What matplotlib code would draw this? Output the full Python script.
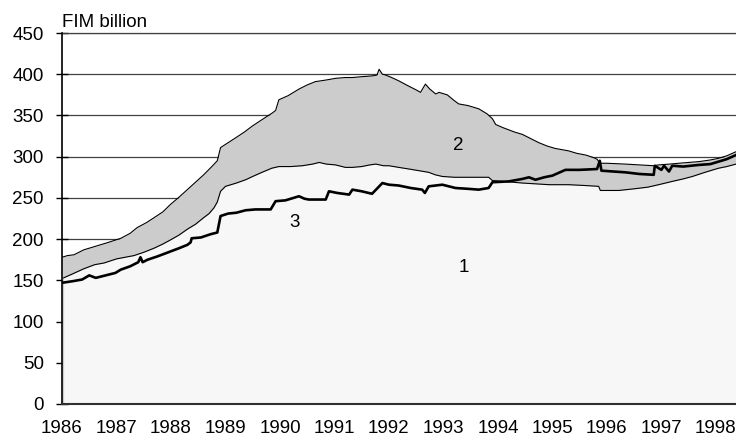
import matplotlib

matplotlib.use("Agg")
import matplotlib.pyplot as plt
import numpy as np

plt.rcParams["font.family"] = ["Liberation Sans", "DejaVu Sans"]

# series 2 top (total)
top_x = [1986.00, 1986.10, 1986.22, 1986.40, 1986.65, 1986.85, 1987.08, 1987.25, 1987.38, 1987.55,
         1987.69, 1987.85, 1987.99, 1988.15, 1988.30, 1988.45, 1988.60, 1988.75, 1988.85, 1988.91,
         1989.05, 1989.19, 1989.35, 1989.49, 1989.65, 1989.86, 1989.92, 1989.98, 1990.15, 1990.35,
         1990.50, 1990.65, 1990.85, 1991.02, 1991.20, 1991.33, 1991.50, 1991.70, 1991.78, 1991.82,
         1991.88, 1991.94, 1992.05, 1992.18, 1992.35, 1992.50, 1992.58, 1992.67, 1992.75, 1992.86,
         1992.92, 1993.07, 1993.20, 1993.28, 1993.45, 1993.65, 1993.80, 1993.90, 1993.96, 1994.10,
         1994.30, 1994.45, 1994.60, 1994.75, 1994.90, 1995.05, 1995.30, 1995.45, 1995.61, 1995.75,
         1995.82, 1995.87, 1996.00, 1996.34, 1996.60, 1996.86, 1996.95, 1997.15, 1997.32, 1997.50,
         1997.69, 1997.90, 1998.05, 1998.20, 1998.37]
top_y = [178, 180, 181, 187, 192, 196, 201, 207, 214, 220,
         226, 233, 242, 251, 260, 269, 278, 288, 295, 311,
         317, 323, 330, 337, 344, 353, 356, 369, 374, 382,
         387, 391, 393, 395, 396, 396, 397, 398, 399, 406,
         400, 399, 396, 392, 386, 381, 378, 388, 382, 376,
         378, 375, 368, 364, 362, 358, 352, 346, 339, 335,
         330, 327, 322, 317, 313, 310, 307, 304, 302, 299,
         297, 292, 292, 291, 290, 289, 290, 291, 292, 293,
         294, 296, 298, 301, 306]

# series 1
s1_x = [1986.03, 1986.20, 1986.40, 1986.60, 1986.77, 1987.00, 1987.32, 1987.50, 1987.69, 1987.85,
        1987.99, 1988.15, 1988.30, 1988.45, 1988.60, 1988.70, 1988.79, 1988.85, 1988.91, 1989.00,
        1989.20, 1989.37, 1989.50, 1989.67, 1989.85, 1989.98, 1990.20, 1990.41, 1990.60, 1990.72,
        1990.85, 1991.02, 1991.20, 1991.33, 1991.50, 1991.65, 1991.76, 1991.90, 1992.00, 1992.18,
        1992.37, 1992.55, 1992.73, 1992.85, 1992.98, 1993.20, 1993.50, 1993.83, 1993.90, 1994.10,
        1994.45, 1994.70, 1994.94, 1995.30, 1995.60, 1995.85, 1995.88, 1996.22, 1996.50, 1996.75,
        1996.95, 1997.20, 1997.40, 1997.57, 1997.80, 1998.05, 1998.20, 1998.37]
s1_y = [153, 158, 164, 169, 171, 176, 180, 184, 189, 194,
        199, 205, 212, 218, 226, 231, 238, 245, 258, 264,
        268, 272, 276, 281, 286, 288, 288, 289, 291, 293,
        291, 290, 287, 287, 288, 290, 291, 289, 289, 287,
        285, 283, 281, 278, 276, 275, 275, 275, 271, 270,
        268, 267, 266, 266, 265, 264, 259, 259, 261, 263,
        266, 270, 273, 276, 281, 286, 288, 291]

# series 3
s3_x = [1986.00, 1986.20, 1986.37, 1986.50, 1986.62, 1986.80, 1986.98, 1987.08, 1987.25, 1987.40,
        1987.44, 1987.48, 1987.57, 1987.75, 1987.99, 1988.15, 1988.30, 1988.36, 1988.38, 1988.55,
        1988.73, 1988.85, 1988.91, 1989.05, 1989.20, 1989.37, 1989.55, 1989.83, 1989.92, 1990.10,
        1990.35, 1990.45, 1990.53, 1990.84, 1990.90, 1991.05, 1991.27, 1991.33, 1991.50, 1991.69,
        1991.88, 1992.00, 1992.18, 1992.40, 1992.61, 1992.66, 1992.73, 1992.98, 1993.22, 1993.45,
        1993.65, 1993.83, 1993.90, 1994.20, 1994.45, 1994.57, 1994.69, 1994.85, 1995.00, 1995.24,
        1995.50, 1995.82, 1995.87, 1995.90, 1996.34, 1996.60, 1996.86, 1996.88, 1997.00, 1997.05,
        1997.14, 1997.20, 1997.40, 1997.69, 1997.90, 1998.05, 1998.20, 1998.37]
s3_y = [147, 149, 151, 156, 153, 156, 159, 163, 167, 172,
        178, 172, 175, 179, 185, 189, 193, 196, 201, 202,
        206, 208, 228, 231, 232, 235, 236, 236, 246, 247,
        252, 249, 248, 248, 258, 256, 254, 260, 258, 255,
        268, 266, 265, 262, 260, 256, 264, 266, 262, 261,
        260, 262, 269, 270, 273, 275, 272, 275, 277, 284,
        284, 285, 295, 283, 281, 279, 278, 289, 284, 289,
        282, 289, 288, 290, 291, 294, 297, 302]

years = list(range(1986, 1999))
y_ticks = list(range(0, 451, 50))
area_labels = ["1", "2", "3"]
label_pos = [(1993.38, 165), (1993.28, 313), (1990.26, 220)]
FONT_SIZE = 13.5


def main() -> None:
    fig = plt.figure(figsize=(7.36, 4.38), dpi=100)
    ax = fig.add_axes([62 / 736, 34 / 438, 674 / 736, 371 / 438])

    ax.fill_between(top_x, 0, top_y, color="#cccccc", linewidth=0, zorder=2)
    ax.fill_between(s1_x, 0, s1_y, color="#f7f7f7", linewidth=0, zorder=3)
    ax.plot(top_x, top_y, color="black", linewidth=0.8, zorder=4)
    ax.plot(s1_x, s1_y, color="black", linewidth=0.8, zorder=4)
    ax.plot(s3_x, s3_y, color="black", linewidth=1.9, zorder=5)

    for text, (x, y) in zip(area_labels, label_pos):
        ax.text(x, y, text, fontsize=FONT_SIZE, ha="center", va="center", zorder=6)

    ax.set_xlim(1986, 1998.37)
    ax.set_ylim(0, 450)
    ax.set_yticks(y_ticks)
    ax.set_xticks(years)
    ax.set_xticklabels([str(y) for y in years])
    ax.yaxis.grid(True, color="#404040", linewidth=0.9, zorder=0)
    ax.set_axisbelow(True)
    ax.tick_params(axis="y", direction="inout", length=8, width=1, labelsize=FONT_SIZE, pad=9)
    ax.tick_params(axis="x", length=0, labelsize=FONT_SIZE, pad=11.5)

    ax.spines["right"].set_visible(False)
    ax.spines["top"].set_color("#404040")
    ax.spines["top"].set_linewidth(0.9)
    ax.spines["left"].set_linewidth(1.2)
    ax.spines["bottom"].set_color("#303030")
    ax.spines["bottom"].set_linewidth(1.5)
    ax.spines["left"].set_zorder(6)
    ax.spines["bottom"].set_zorder(6)

    ax.text(0, 1.005, "FIM billion", transform=ax.transAxes, fontsize=FONT_SIZE,
            ha="left", va="bottom")

    fig.savefig("out.png", dpi=100)
    plt.close(fig)


if __name__ == "__main__":
    main()
